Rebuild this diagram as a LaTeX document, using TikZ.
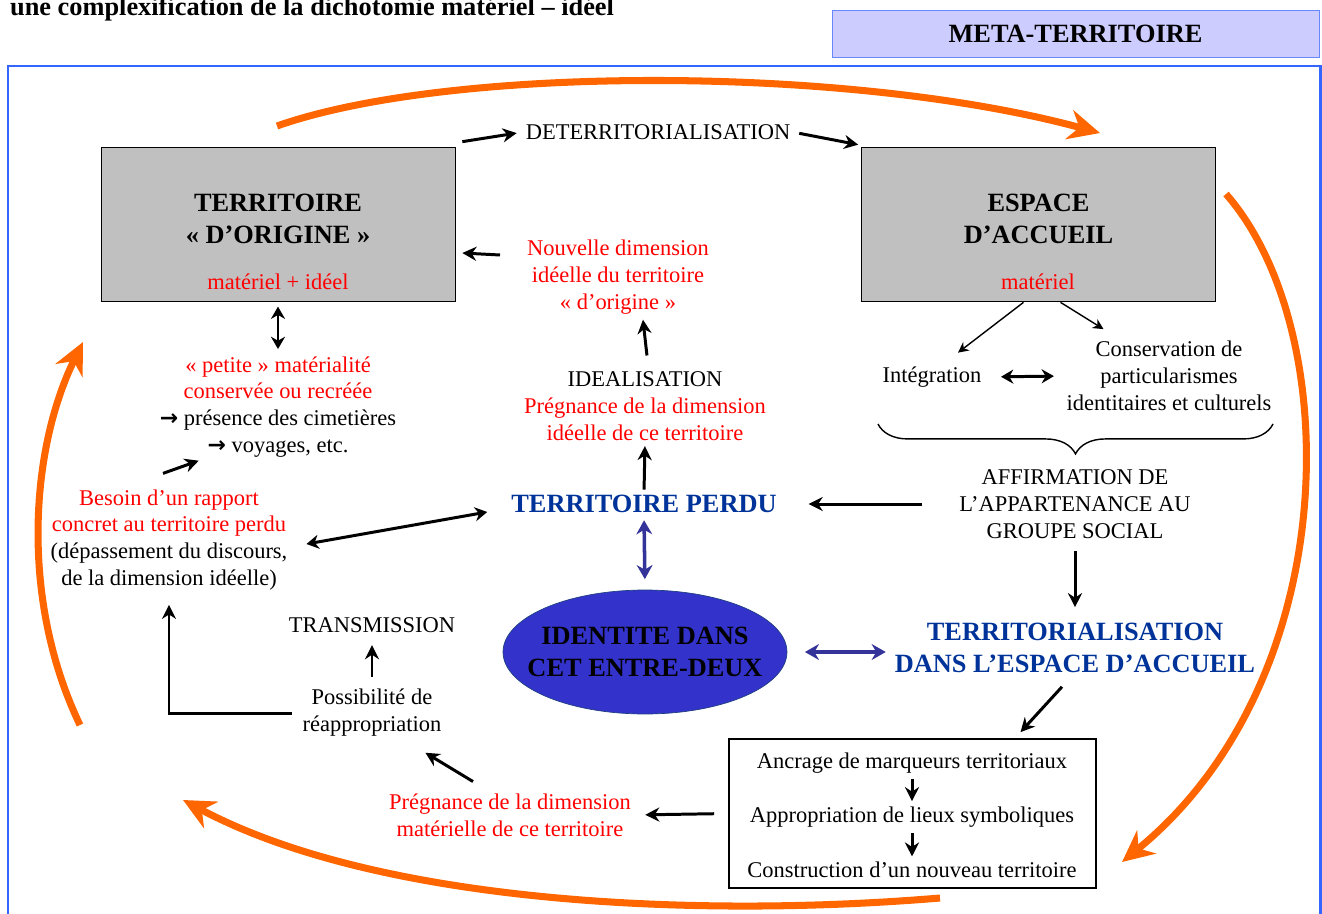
\documentclass[tikz,border=0pt]{standalone}
\usepackage{fontspec}
\setmainfont{Liberation Serif}
\newfontfamily\arrowfont{DejaVu Sans}
\usetikzlibrary{shapes,arrows.meta,positioning,decorations.pathreplacing}
\definecolor{boxgray}{RGB}{192,192,192}
\definecolor{metafill}{RGB}{204,204,255}
\definecolor{metaline}{RGB}{102,136,255}
\definecolor{framecol}{RGB}{51,102,255}
\definecolor{deepblue}{RGB}{0,51,153}
\definecolor{violetblue}{RGB}{51,51,153}
\definecolor{ovalblue}{RGB}{51,51,204}
\definecolor{ovalline}{RGB}{31,63,127}
\definecolor{orangearc}{RGB}{255,102,0}
\newcommand{\fleche}{{\arrowfont\bfseries\fontsize{12.5}{13}\selectfont →}}
\newcommand{\lowstrut}{\rule[-5.6pt]{0pt}{0pt}}
\tikzset{txt/.style = {font = \fontsize{12.8}{15.3}\selectfont, align = center, inner sep = 1pt},
         rtxt/.style = {txt, text = red},
         head/.style = {font = \fontsize{15}{18}\selectfont\bfseries, align = center, inner sep = 1pt},
         bhead/.style = {head, text = deepblue},
         terr/.style = {draw, fill = boxgray, head, minimum width = 7.08cm, minimum height = 3.08cm},
         meta/.style = {draw = metaline, fill = metafill, head, minimum width = 9.74cm, minimum height = 0.94cm},
         oval/.style = {ellipse, draw = ovalline, fill = ovalblue, head, inner xsep = -10pt, inner ysep = 0pt, minimum width = 5.68cm, minimum height = 2.48cm},
         steps/.style = {draw, line width = 1pt, fill = white, minimum width = 7.34cm, minimum height = 2.98cm},
         arr/.style = {-{Stealth[length = 8pt, width = 8pt]}, line width = 1.7pt},
         darr/.style = {{Stealth[length = 7pt, width = 8pt]}-{Stealth[length = 7pt, width = 8pt]}, line width = 1.7pt},
         tarr/.style = {-{Stealth[length = 6pt, width = 6pt]}, line width = 0.8pt},
         parr/.style = {{Stealth[length = 8pt, width = 9pt]}-{Stealth[length = 8pt, width = 9pt]}, line width = 2pt, draw = violetblue},
         oarr/.style = {-{Stealth[length = 18pt, width = 17pt]}, line width = 4pt, draw = orangearc},
}

\begin{document}
\begin{tikzpicture}[x = 0.02cm, y = -0.02cm]
  \useasboundingbox (0,0) rectangle (1322,913);
  \clip (0,0) rectangle (1322,913);

  \node[head, anchor = base west] (title) at (8,15) {une complexification de la dichotomie matériel – idéel};
  \node[meta] (meta) at (1075.5,33.5) {META-TERRITOIRE};
  \draw[framecol, line width = 1.7pt] (8,66) rectangle (1320,960);

  % les deux espaces
  \node[terr] (orig) at (278,224) {TERRITOIRE\\« D’ORIGINE »\lowstrut};
  \node[rtxt] (orignote) at (278,282) {matériel + idéel};
  \node[terr] (acc) at (1038.5,224) {ESPACE\\D’ACCUEIL\lowstrut};
  \node[rtxt] (accnote) at (1038,282) {matériel};
  \node[txt] (det) at (658,132) {DETERRITORIALISATION};

  \node[rtxt] (nouv) at (618,277) {Nouvelle dimension\\idéelle du territoire\\« d’origine »};
  \node[txt] (ideal) at (645,406) {IDEALISATION\\\textcolor{red}{Prégnance de la dimension}\\\textcolor{red}{idéelle de ce territoire}};
  \node[bhead] (perdu) at (644,504) {TERRITOIRE PERDU};
  \node[oval] (ident) at (645,652) {IDENTITE DANS\\CET ENTRE-DEUX};

  \node[txt] (integ) at (932,377) {Intégration};
  \node[txt] (cons) at (1169,376) {Conservation de\\particularismes\\identitaires et culturels};
  \node[txt] (affirm) at (1075,504) {AFFIRMATION DE\\L’APPARTENANCE AU\\GROUPE SOCIAL};
  \node[bhead] (terr2) at (1075,648) {TERRITORIALISATION\\DANS L’ESPACE D’ACCUEIL};

  \node[txt] (petite) at (278,407) {\textcolor{red}{« petite » matérialité}\\\textcolor{red}{conservée ou recréée}\\\fleche{} présence des cimetières\\\fleche{} voyages, etc.};
  \node[txt] (besoin) at (169,540) {\textcolor{red}{Besoin d’un rapport}\\\textcolor{red}{concret au territoire perdu}\\(dépassement du discours,\\de la dimension idéelle)};
  \node[txt] (trans) at (372,625) {TRANSMISSION};
  \node[txt] (poss) at (372,713) {Possibilité de\\réappropriation};
  \node[rtxt] (pregm) at (510,815) {Prégnance de la dimension\\matérielle de ce territoire};

  \node[steps] (anc) at (912.5,813.5) {};
  \node[txt] (anc1) at (912,763) {Ancrage de marqueurs territoriaux};
  \node[txt] (anc2) at (912,817) {Appropriation de lieux symboliques};
  \node[txt] (anc3) at (912,870) {Construction d’un nouveau territoire};

  \draw[arr, shorten >= 4pt] ([shift={(7,-5)}]orig.north east) -- (det.west);
  \draw[arr, shorten <= 4pt] (det.east) -- ([shift={(-3,-2)}]acc.north west);
  \draw[arr] ([shift={(-25,-22)}]nouv.west) -- ([shift={(7,29)}]orig.east);
  \draw[arr, shorten <= 8pt, shorten >= 2pt] ([xshift = 2pt]ideal.north) -- ([xshift = 14pt]nouv.south);
  \draw[arr, shorten <= 2pt, shorten >= 2pt] (perdu.north) -- (ideal.south);
  \draw[parr, shorten <= 3pt, shorten >= 6pt] (perdu.south) -- (ident.north);
  \draw[parr, shorten <= 10pt, shorten >= 4pt] (ident.east) -- (ident.east -| terr2.west);
  \draw[arr, shorten <= 20pt, shorten >= 17pt] (affirm.west) -- (perdu.east);
  \draw[arr, shorten <= 6pt, shorten >= 8pt] (affirm.south) -- (terr2.north);
  \draw[decorate, decoration = {brace, amplitude = 17pt}, line width = 0.8pt] (1273,424) -- (878,424);

  \draw[tarr] ([shift={(-15,1)}]acc.south) -- ([shift={(26,-12)}]integ.north);
  \draw[tarr] ([shift={(22,1)}]acc.south) -- ([shift={(39,-10)}]cons.north west);
  \draw[darr, shorten <= 10pt, shorten >= 6pt] (integ.east) -- (cons.west);

  \draw[darr, shorten <= 3pt, shorten >= 3pt] (orig.south) -- (petite.north);
  \draw[arr] ([shift={(-6,-14)}]besoin.north) -- ([shift={(41,1)}]petite.south west);
  \draw[darr] ([shift={(17,4)}]besoin.east) -- ([shift={(-22,8)}]perdu.west);
  \draw[arr, shorten <= 6pt, shorten >= 6pt] (poss.north) -- (trans.south);
  \draw[arr, shorten <= 5pt, shorten >= 7pt] (poss.west) -| (besoin.south);
  \draw[arr] ([shift={(-37,-10)}]pregm.north) -- ([shift={(-18,14)}]poss.south east);
  \draw[arr, shorten <= 8pt, shorten >= 7pt] (anc.west) -- (pregm.east);
  \draw[arr] ([shift={(-13,12)}]terr2.south) -- ([shift={(108,-6)}]anc.north);
  \draw[arr, shorten <= 2pt, shorten >= 2pt] (anc1.south) -- (anc2.north);
  \draw[arr, shorten <= 2pt, shorten >= 2pt] (anc2.south) -- (anc3.north);

  % le cycle
  \coordinate (o1s) at (277,126);
  \coordinate (o1e) at (1100,133);
  \coordinate (o2s) at (1226,194);
  \coordinate (o2e) at (1122,862);
  \coordinate (o3s) at (940,898);
  \coordinate (o3e) at (183,800);
  \coordinate (o4s) at (80,725);
  \coordinate (o4e) at (83,342);
  \draw[oarr] (o1s) .. controls (450,65) and (850,65) .. (o1e);
  \draw[oarr] (o2s) .. controls (1345,330) and (1345,680) .. (o2e);
  \draw[oarr] (o3s) .. controls (700,918) and (380,905) .. (o3e);
  \draw[oarr] (o4s) .. controls (20,600) and (30,450) .. (o4e);

\end{tikzpicture}
\end{document}
